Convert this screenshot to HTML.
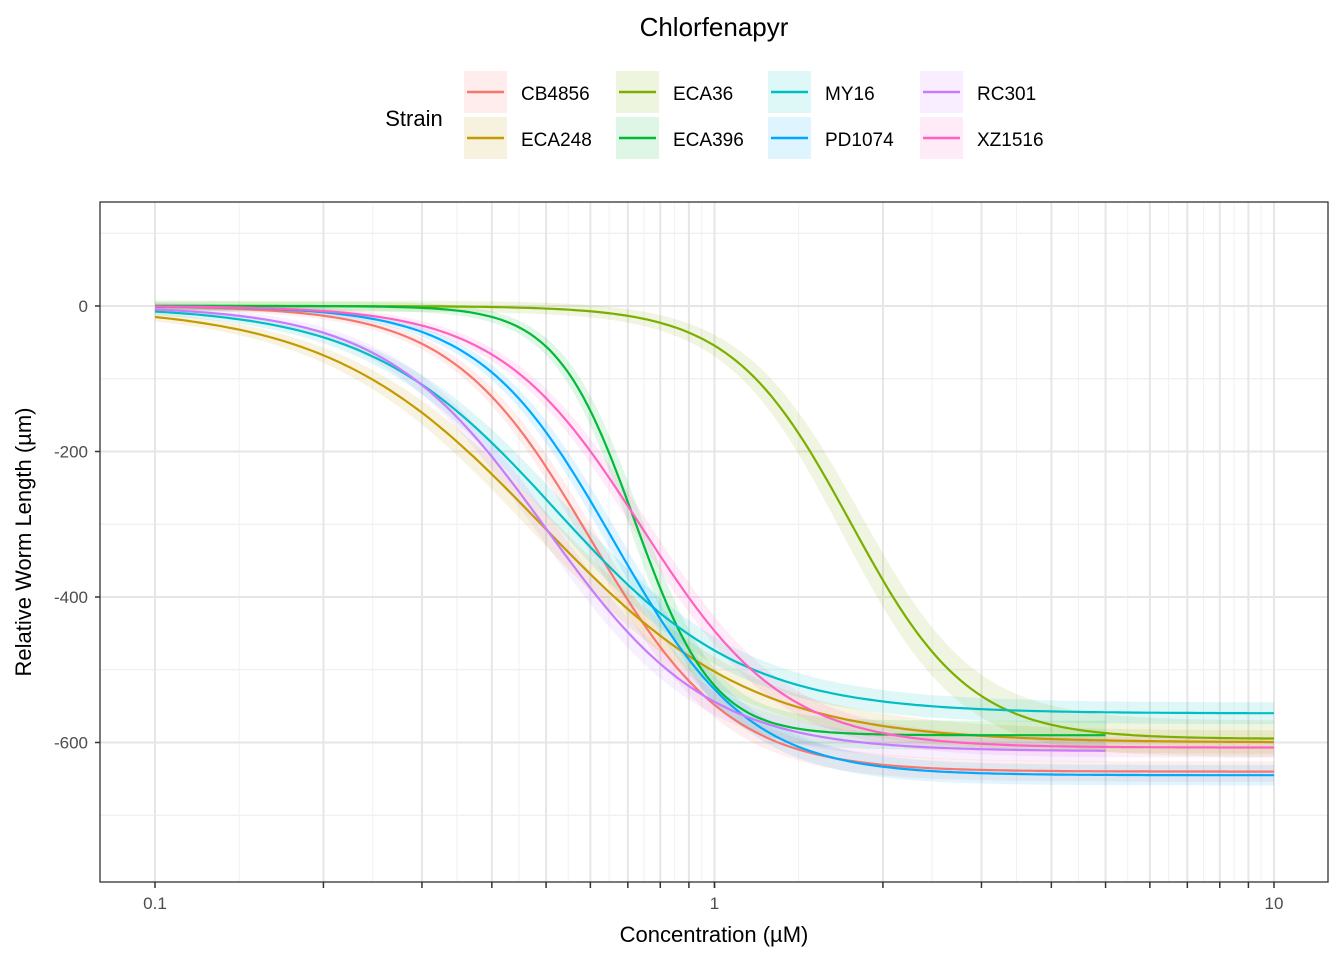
<!DOCTYPE html>
<html><head><meta charset="utf-8"><style>
html,body{margin:0;padding:0;background:#fff;}
svg{display:block;font-family:"Liberation Sans",Arial,sans-serif;}
</style></head><body>
<svg id="chart" width="1344" height="960" xmlns="http://www.w3.org/2000/svg">
<text x="714" y="36" text-anchor="middle" font-size="26" fill="#000">Chlorfenapyr</text>
<text x="414" y="126" text-anchor="middle" font-size="22" fill="#000">Strain</text>
<g id="legend"></g>
<g id="plot"></g>
<text x="714" y="942" text-anchor="middle" font-size="22" fill="#000">Concentration (µM)</text>
<text transform="translate(31,542) rotate(-90)" text-anchor="middle" font-size="22" fill="#000">Relative Worm Length (µm)</text>
</svg>
<script>
const strains = ["CB4856","ECA248","ECA36","ECA396","MY16","PD1074","RC301","XZ1516"];
const colors = ["#F8766D","#C49A00","#7CAE00","#00BA38","#00BFC4","#00A9FF","#C77CFF","#FF61C3"];
const lowerLimit = [-640,-600,-595,-590,-560,-645,-612,-607];
const ec50 = [0.6,0.49,1.75,0.72,0.52,0.66,0.5,0.74];
const hillSlope = [3.5,2.3,4.1,6.2,2.6,3.6,3.0,3.4];
const maxConc = [10,10,10,5,10,10,5,10];
const ciHalfWidth = [14,16,25,20,15,14,15,14];
const yTicks = [0,-200,-400,-600];
const yMinor = [100,-100,-300,-500,-700];
const xTicks = [0.1,1,10];
const xTickLabels = ["0.1","1","10"];

const NS="http://www.w3.org/2000/svg";
const L=100,R=1328,T=202,B=882;
const xs=v=>155+(Math.log10(v)+1)*559.5;
const ys=v=>306-v*0.7275;
function mk(tag,attrs,parent){const e=document.createElementNS(NS,tag);for(const k in attrs)e.setAttribute(k,attrs[k]);parent.appendChild(e);return e;}
const plot=document.getElementById('plot');
mk('rect',{x:L,y:T,width:R-L,height:B-T,fill:'#fff'},plot);
yMinor.forEach(v=>{const l=mk('line',{x1:L,x2:R,y1:ys(v),y2:ys(v),stroke:'#ebebeb','stroke-width':1},plot);

});
for(let d=-1;d<=0;d++){for(let m=1;m<=10;m++){
 const v=m*Math.pow(10,d);
 if(m<10){const mid=Math.sqrt(v*(m+1)*Math.pow(10,d));
  const l2=mk('line',{x1:xs(mid),x2:xs(mid),y1:T,y2:B,stroke:'#f1f1f1','stroke-width':1},plot);
  
  }
 const l=mk('line',{x1:xs(v),x2:xs(v),y1:T,y2:B,stroke:'#e6e6e6','stroke-width':2},plot);
 
 
 const t=mk('line',{x1:xs(v),x2:xs(v),y1:B,y2:B+6,stroke:'#333','stroke-width':1.5},plot);
 
 
}}
yTicks.forEach(v=>{const l=mk('line',{x1:L,x2:R,y1:ys(v),y2:ys(v),stroke:'#e6e6e6','stroke-width':2},plot);


const t=mk('line',{x1:L-5,x2:L,y1:ys(v),y2:ys(v),stroke:'#333','stroke-width':1.5},plot);


const tx=mk('text',{x:L-12,y:ys(v)+6,'text-anchor':'end','font-size':17,fill:'#4d4d4d'},plot);tx.textContent=String(v);

});
xTicks.forEach((v,i)=>{const tx=mk('text',{x:xs(v),y:B+27,'text-anchor':'middle','font-size':17,fill:'#4d4d4d'},plot);tx.textContent=xTickLabels[i];

});
function f(i,c){const r=Math.pow(c/ec50[i],hillSlope[i]);return lowerLimit[i]*r/(1+r);}
const N=200;
strains.forEach((s,i)=>{let up=[],dn=[];
 for(let k=0;k<=N;k++){const lc=-1+k/N*(Math.log10(maxConc[i])+1);const c=Math.pow(10,lc);const y=f(i,c);
  const w=ciHalfWidth[i]*(0.3+0.7*Math.abs(y/lowerLimit[i]))+ciHalfWidth[i]*0.8*Math.sin(Math.PI*Math.abs(y/lowerLimit[i]));
  up.push(xs(c).toFixed(1)+','+ys(y+w).toFixed(1));dn.unshift(xs(c).toFixed(1)+','+ys(y-w).toFixed(1));}
 const p=mk('polygon',{points:up.concat(dn).join(' '),fill:colors[i],'fill-opacity':0.12},plot);
 
 });
strains.forEach((s,i)=>{let pts=[];
 for(let k=0;k<=N;k++){const lc=-1+k/N*(Math.log10(maxConc[i])+1);const c=Math.pow(10,lc);pts.push(xs(c).toFixed(1)+','+ys(f(i,c)).toFixed(1));}
 const p=mk('polyline',{points:pts.join(' '),fill:'none',stroke:colors[i],'stroke-width':2.2},plot);
 
 });
mk('rect',{x:L,y:T,width:R-L,height:B-T,fill:'none',stroke:'#333','stroke-width':1.3},plot);
const lg=document.getElementById('legend');
strains.forEach((s,i)=>{const col=Math.floor(i/2),row=i%2;const x=464+col*152,y=71+row*46;
 const g=mk('g',{},lg);
 
 
 mk('rect',{x:x,y:y,width:43,height:42,fill:colors[i],'fill-opacity':0.13},g);
 mk('line',{x1:x+3,x2:x+40,y1:y+21,y2:y+21,stroke:colors[i],'stroke-width':2.5},g);
 const t=mk('text',{x:x+57,y:y+29,'font-size':19,fill:'#000'},g);t.textContent=s;});
</script>
</body></html>
